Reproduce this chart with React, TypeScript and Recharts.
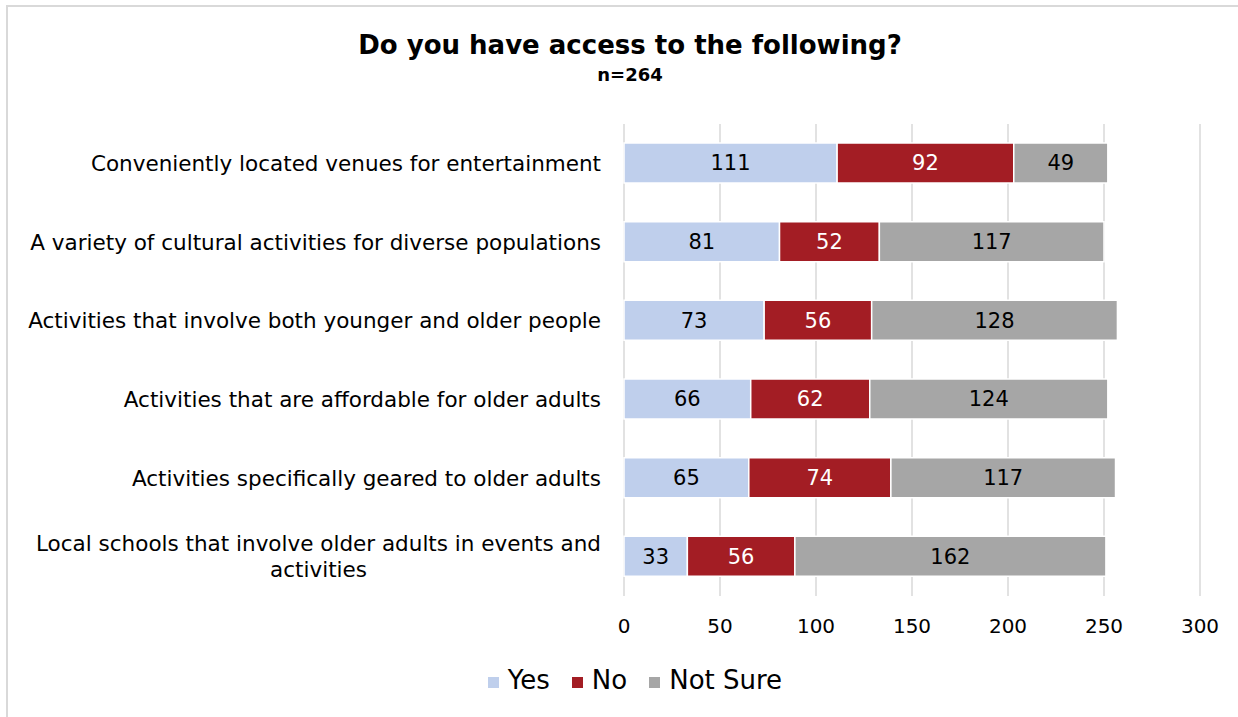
import { BarChart, Bar, XAxis, YAxis, CartesianGrid, Legend, LabelList } from 'recharts';

const categories = [
  'Conveniently located venues for entertainment',
  'A variety of cultural activities for diverse populations',
  'Activities that involve both younger and older people',
  'Activities that are affordable for older adults',
  'Activities specifically geared to older adults',
  'Local schools that involve older adults in events and activities',
];
const yesValues = [111, 81, 73, 66, 65, 33];
const noValues = [92, 52, 56, 62, 74, 56];
const notSureValues = [49, 117, 128, 124, 117, 162];
const xTicks = [0, 50, 100, 150, 200, 250, 300];

const FONT = '"DejaVu Sans", Tahoma, sans-serif';

const series = [
  { key: 'yes', name: 'Yes', color: '#BFCFEC', labelColor: '#000' },
  { key: 'no', name: 'No', color: '#A31D24', labelColor: '#fff' },
  { key: 'notSure', name: 'Not Sure', color: '#A6A6A6', labelColor: '#000' },
];

const data = categories.map((name, i) => ({
  name,
  yes: yesValues[i],
  no: noValues[i],
  notSure: notSureValues[i],
}));

// wrap long category names to fit the label column
const wrapLines = (text: string, maxWidth: number, font: string) => {
  const ctx = document.createElement('canvas').getContext('2d');
  if (!ctx) return { lines: [text], widest: 0 };
  ctx.font = font;
  const words = text.split(' ');
  const lines: string[] = [];
  let cur = '';
  for (const w of words) {
    const next = cur ? cur + ' ' + w : w;
    if (ctx.measureText(next).width > maxWidth && cur) {
      lines.push(cur);
      cur = w;
    } else {
      cur = next;
    }
  }
  if (cur) lines.push(cur);
  const widest = Math.max(...lines.map((l) => ctx.measureText(l).width));
  return { lines, widest };
};

function CategoryTick(props: any) {
  const { x, y, payload } = props;
  const { lines, widest } = wrapLines(payload.value, 580, `21.5px ${FONT}`);
  const lineH = 26;
  const startY = y - ((lines.length - 1) * lineH) / 2;
  return (
    <g>
      {lines.map((l, i) => (
        <text
          key={i}
          x={lines.length > 1 ? x - widest / 2 : x}
          y={startY + i * lineH}
          dy="0.35em"
          textAnchor={lines.length > 1 ? 'middle' : 'end'}
          fontSize={21.5}
          fontFamily={FONT}
          fill="#000"
        >
          {l}
        </text>
      ))}
    </g>
  );
}

function LegendContent() {
  return (
    <div
      style={{
        display: 'flex',
        justifyContent: 'center',
        alignItems: 'center',
        height: 30,
        paddingLeft: 70,
        fontFamily: FONT,
        fontSize: 26,
        color: '#000',
      }}
    >
      {series.map((s) => (
        <div key={s.key} style={{ display: 'flex', alignItems: 'center', margin: '0 11px' }}>
          <span style={{ width: 11, height: 11, background: s.color, marginRight: 9, marginTop: 4 }} />
          <span>{s.name}</span>
        </div>
      ))}
    </div>
  );
}

export default function App() {
  return (
    <div
      style={{
        position: 'absolute',
        left: 0,
        top: 0,
        width: 1238,
        height: 717,
        background: '#fff',
        fontFamily: FONT,
        overflow: 'hidden',
      }}
    >
      <div
        style={{
          position: 'absolute',
          left: 6,
          top: 5,
          width: 1300,
          height: 800,
          border: '2px solid #D9D9D9',
        }}
      />
      <div
        style={{
          position: 'absolute',
          left: 0,
          width: 1260,
          top: 29,
          textAlign: 'center',
          fontWeight: 'bold',
          fontSize: 26,
          lineHeight: '32px',
        }}
      >
        Do you have access to the following?
      </div>
      <div
        style={{
          position: 'absolute',
          left: 0,
          width: 1260,
          top: 64,
          textAlign: 'center',
          fontWeight: 'bold',
          fontSize: 18,
          lineHeight: '22px',
        }}
      >
        n=264
      </div>
      <div style={{ position: 'absolute', left: 0, top: 0 }}>
        <BarChart
          width={1238}
          height={717}
          data={data}
          layout="vertical"
          barSize={40}
          margin={{ top: 124, right: 38, bottom: 22, left: 0 }}
        >
          <CartesianGrid horizontal={false} stroke="#D9D9D9" strokeWidth={1.5} />
          <XAxis
            type="number"
            domain={[0, 300]}
            ticks={xTicks}
            axisLine={false}
            tickLine={false}
            tickSize={0}
            tickMargin={23}
            height={69}
            tick={{ fontSize: 20, fill: '#000', fontFamily: FONT }}
          />
          <YAxis
            type="category"
            dataKey="name"
            width={624}
            axisLine={false}
            tickLine={false}
            tickSize={0}
            tickMargin={23}
            tick={<CategoryTick />}
          />
          <Legend verticalAlign="bottom" content={<LegendContent />} />
          {series.map((s) => (
            <Bar
              key={s.key}
              dataKey={s.key}
              name={s.name}
              stackId="a"
              fill={s.color}
              stroke="#fff"
              strokeWidth={1.5}
              isAnimationActive={false}
            >
              <LabelList
                dataKey={s.key}
                position="center"
                fill={s.labelColor}
                fontSize={21}
                fontFamily={FONT}
              />
            </Bar>
          ))}
        </BarChart>
      </div>
    </div>
  );
}
